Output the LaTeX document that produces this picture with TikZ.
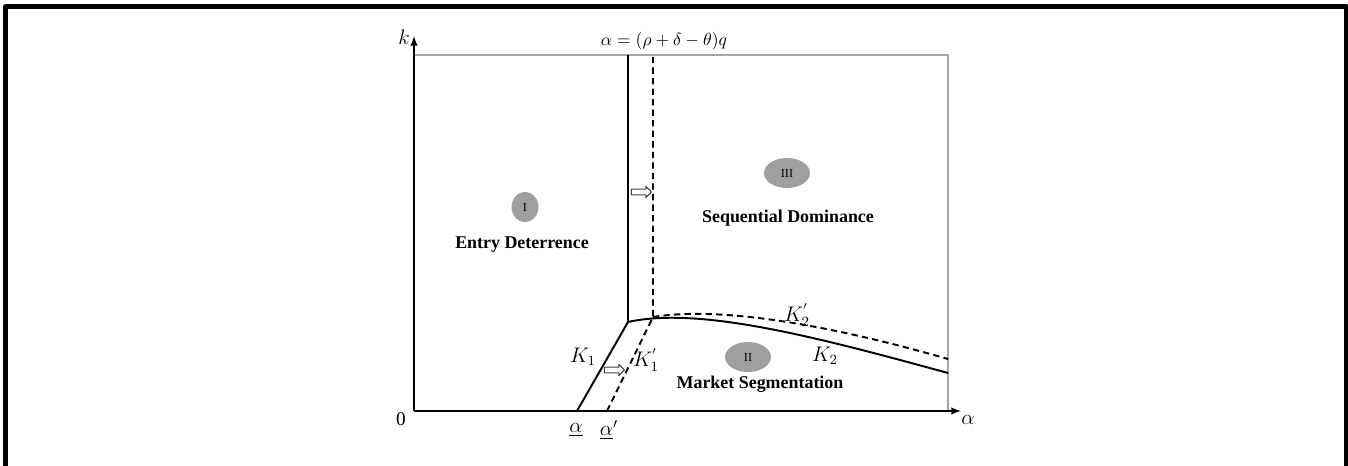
\documentclass[tikz,border=0pt]{standalone}
\usepackage{fontspec}
\setmainfont{Liberation Serif}
\usetikzlibrary{shapes.arrows,shapes.geometric}

\tikzset{
  region/.style={ellipse, fill=gray!75, inner sep=1pt, minimum width=#1, minimum height=0.6cm, font=\scriptsize},
  regname/.style={font=\fontsize{10.2pt}{12pt}\selectfont\bfseries},
  curvelabel/.style={font=\fontsize{11.5pt}{13pt}\selectfont},
  shift arrow/.style={single arrow, draw=black!75, fill=white, line width=0.6pt, inner xsep=0pt, inner ysep=1.3pt,
    minimum height=0.4cm, minimum width=0.22cm, single arrow head extend=1.6pt},
  curve/.style={line width=1.1pt},
  curve new/.style={line width=1.1pt, dash pattern=on 3.6pt off 2.4pt},
}

\begin{document}
\begin{tikzpicture}[x=0.02cm, y=-0.02cm, line join=round]
  \useasboundingbox (0,0) rectangle (1348,466);
  % outer frame
  \draw[line width=0.1cm] (5.5,466) -- (5.5,7) -- (1346,7) -- (1346,466);

  % axes and box
  \coordinate (O) at (414,411);
  \coordinate (ytop) at (414,36);
  \coordinate (xend) at (961,411);
  \coordinate (boxTL) at (414,55);
  \coordinate (boxTR) at (948,55);
  \coordinate (boxBR) at (948,411);
  \draw[gray!70, line width=0.8pt] (boxTL) -- (boxTR) -- (boxBR);
  \draw[line width=0.9pt, -latex] (O) -- (ytop);
  \draw[line width=0.9pt, -latex] (O) -- (xend);
  \node[font=\fontsize{13pt}{15pt}\selectfont] (klab) at (404,37) {$k$};
  \node[font=\fontsize{13pt}{15pt}\selectfont] (alab) at (968,420) {$\alpha$};
  \node[font=\fontsize{11pt}{13pt}\selectfont] (zero) at (401,419) {0};

  % thresholds
  \coordinate (alow) at (577,411);
  \coordinate (alowp) at (607,411);
  \coordinate (kink) at (628,322);
  \coordinate (kinkp) at (653,317);
  \coordinate (topS) at (628,55);
  \coordinate (topD) at (653,55);
  \coordinate (endS) at (948,373);
  \coordinate (endD) at (948,359);

  % old curves
  \draw[curve] (alow) -- (kink) -- (topS);
  \draw[curve] (kink) .. controls (700,306) and (820,338) .. (endS);
  % shifted curves
  \draw[curve new] (alowp) -- (kinkp) -- (topD);
  \draw[curve new] (kinkp) .. controls (720,306) and (830,325) .. (endD);

  % shift arrows
  \node[shift arrow] (shiftA) at (640,192) {};
  \node[shift arrow] (shiftB) at (613,370) {};

  % labels
  \node[font=\fontsize{10pt}{12pt}\selectfont] (border) at (664,41) {$\alpha=(\rho+\delta-\theta)q$};
  \node[font=\fontsize{12pt}{14pt}\selectfont] (amin) at (576,430) {$\underline{\alpha}$};
  \node[font=\fontsize{12pt}{14pt}\selectfont] (aminp) at (609,430) {$\underline{\alpha}'$};
  \node[curvelabel] (Kone) at (583,357) {$K_1$};
  \node[curvelabel] (Konep) at (646,360) {$K^{'}_1$};
  \node[curvelabel] (Ktwop) at (797,315) {$K^{'}_2$};
  \node[curvelabel] (Ktwo) at (825,356) {$K_2$};

  % regions
  \node[region=0.54cm] (regI) at (525,207) {I};
  \node[regname] (entry) at (522,245) {Entry Deterrence};
  \node[region=0.92cm] (regIII) at (787,173) {III};
  \node[regname] (seq) at (788,218) {Sequential Dominance};
  \node[region=0.92cm] (regII) at (748,357) {II};
  \node[regname] (seg) at (760,384) {Market Segmentation};
\end{tikzpicture}
\end{document}
